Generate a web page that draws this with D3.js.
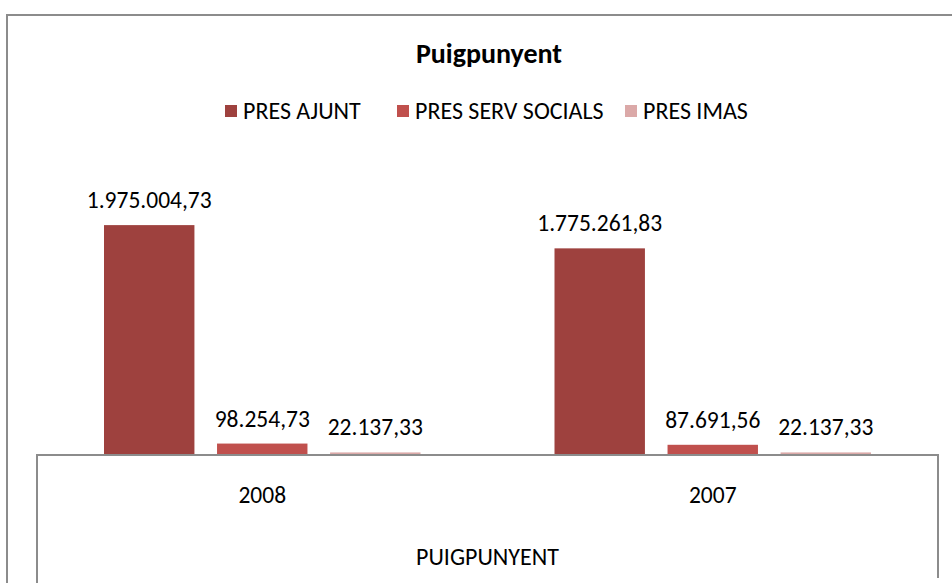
<!DOCTYPE html>
<html>
<head>
<meta charset="utf-8">
<script src="https://cdn.jsdelivr.net/npm/d3@7"></script>
<style>
  html, body { margin: 0; padding: 0; background: #fff; }
  svg { display: block; font-family: Carlito, Lato, "Open Sans", sans-serif; }
</style>
</head>
<body>
<svg id="chart" width="952" height="583"></svg>
<script>
// Budget figures for Puigpunyent, by year
const years = ["2008", "2007"];
const seriesNames = ["PRES AJUNT", "PRES SERV SOCIALS", "PRES IMAS"];
const presAjunt = [1975004.73, 1775261.83];
const presServSocials = [98254.73, 87691.56];
const presImas = [22137.33, 22137.33];
const seriesColors = ["#9e413e", "#c0504d", "#dba9a8"];
const axisTitle = "PUIGPUNYENT";
const chartTitle = "Puigpunyent";
const yMax = 2500000;

const series = [presAjunt, presServSocials, presImas];

const svg = d3.select("#chart");

// chart frame
svg.append("rect")
  .attr("x", 7).attr("y", 15)
  .attr("width", 960).attr("height", 600)
  .attr("fill", "#fff")
  .attr("stroke", "#8c8c8c").attr("stroke-width", 2);

const plot = { left: 37, right: 938, top: 164, bottom: 455 };

const x0 = d3.scaleBand().domain(years).range([plot.left, plot.right]).paddingInner(0).paddingOuter(0);
const x1 = d3.scaleBand().domain(seriesNames).range([67, x0.bandwidth() - 67]).paddingInner(0.2).paddingOuter(0);
const y = d3.scaleLinear().domain([0, yMax]).range([plot.bottom, plot.top]);

// number format: dot thousands, comma decimals
const fmt = d3.formatLocale({ decimal: ",", thousands: ".", grouping: [3], currency: ["", "€"] }).format(",.2f");

// title
svg.append("text")
  .attr("x", 489).attr("y", 63)
  .attr("text-anchor", "middle")
  .attr("font-size", 28).attr("font-weight", "bold")
  .attr("fill", "#000")
  .text(chartTitle);

// legend
const legendX = [225, 397, 625];
const legend = svg.append("g");
seriesNames.forEach((name, i) => {
  const g = legend.append("g").attr("transform", `translate(${legendX[i]},105)`);
  g.append("rect").attr("width", 12).attr("height", 12).attr("fill", seriesColors[i]);
  g.append("text").attr("x", 18).attr("y", 14)
    .attr("font-size", 24).attr("fill", "#000").text(name);
});

// bars
const groups = svg.append("g").selectAll("g")
  .data(years)
  .join("g")
  .attr("transform", d => `translate(${x0(d)},0)`);

groups.selectAll("rect")
  .data((d, gi) => seriesNames.map((s, si) => ({ s, si, v: series[si][gi] })))
  .join("rect")
  .attr("x", d => x1(d.s))
  .attr("width", x1.bandwidth())
  .attr("y", d => y(d.v))
  .attr("height", d => y(0) - y(d.v))
  .attr("fill", d => seriesColors[d.si]);

groups.selectAll("text.val")
  .data((d, gi) => seriesNames.map((s, si) => ({ s, si, v: series[si][gi] })))
  .join("text")
  .attr("class", "val")
  .attr("x", d => x1(d.s) + x1.bandwidth() / 2)
  .attr("y", d => y(d.v) - 17)
  .attr("text-anchor", "middle")
  .attr("font-size", 23.5).attr("fill", "#000")
  .text(d => fmt(d.v));

// category axis box
const axisG = svg.append("g");
axisG.append("path")
  .attr("d", `M${plot.left},583 V${plot.bottom} H${plot.right} V578`)
  .attr("fill", "none")
  .attr("stroke", "#8c8c8c").attr("stroke-width", 2);

axisG.selectAll("text.cat")
  .data(years)
  .join("text")
  .attr("class", "cat")
  .attr("x", d => x0(d) + x0.bandwidth() / 2)
  .attr("y", 503)
  .attr("text-anchor", "middle")
  .attr("font-size", 23.5).attr("fill", "#000")
  .text(d => d);

axisG.append("text")
  .attr("x", (plot.left + plot.right) / 2)
  .attr("y", 565)
  .attr("text-anchor", "middle")
  .attr("font-size", 24).attr("fill", "#000")
  .text(axisTitle);
</script>
</body>
</html>
